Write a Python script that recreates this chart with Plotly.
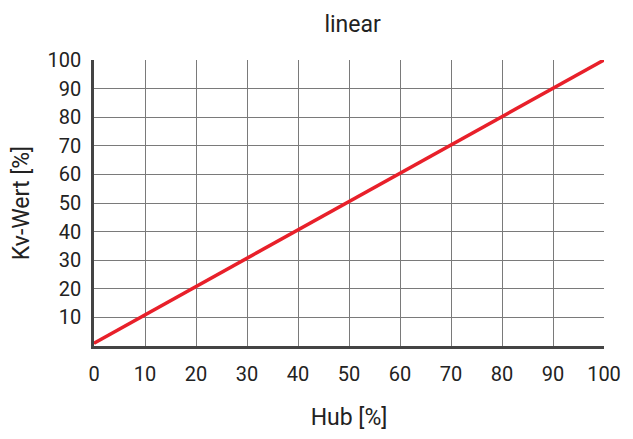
import plotly.graph_objects as go

hub = [0, 10, 20, 30, 40, 50, 60, 70, 80, 90, 100]
kv = [1, 10.9, 20.8, 30.7, 40.6, 50.5, 60.4, 70.3, 80.2, 90.1, 100]
x_ticks = [0, 10, 20, 30, 40, 50, 60, 70, 80, 90, 100]
y_ticks = [10, 20, 30, 40, 50, 60, 70, 80, 90, 100]

fig = go.Figure()
fig.add_trace(go.Scatter(x=hub, y=kv, mode="lines",
                         line=dict(color="#e8202a", width=3.5), showlegend=False,
                         hoverinfo="skip"))

font = "Roboto, Arial, sans-serif"
fig.update_layout(
    width=633, height=439,
    margin=dict(l=94, r=22, t=60, b=87),
    paper_bgcolor="white", plot_bgcolor="white",
    title=dict(text="linear", x=0.557, xanchor="center", y=0.946, yanchor="middle",
               font=dict(family=font, size=23, color="#222")),
    font=dict(family=font, size=20, color="#222"),
)
fig.update_xaxes(
    range=[0, 100], tickvals=x_ticks, ticktext=[str(v) for v in x_ticks],
    showgrid=True, gridcolor="#7a7a7a", gridwidth=1.3,
    showline=True, linecolor="#444", linewidth=2.5,
    ticks="outside", ticklen=8, tickcolor="rgba(0,0,0,0)",
    zeroline=False,
    title=dict(text="Hub [%]", font=dict(family=font, size=23, color="#222"), standoff=25),
)
fig.update_yaxes(
    range=[0, 100], tickvals=y_ticks, ticktext=[str(v) for v in y_ticks],
    showgrid=True, gridcolor="#7a7a7a", gridwidth=1.3,
    showline=True, linecolor="#444", linewidth=2.5,
    ticks="outside", ticklen=6, tickcolor="rgba(0,0,0,0)",
    zeroline=False,
    title=dict(text="Kv-Wert [%]", font=dict(family=font, size=23, color="#222"), standoff=12),
)
fig.write_html("out.html",
               config={"displayModeBar": False},
               post_script="document.body.style.margin='0';document.body.style.overflow='hidden';")
